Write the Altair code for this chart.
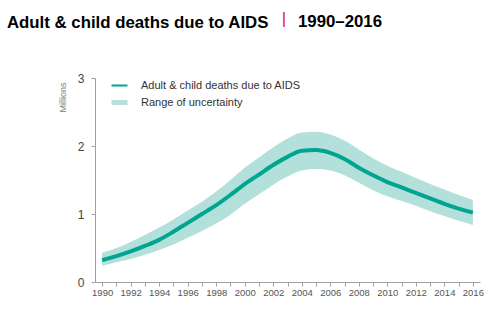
import altair as alt
import pandas as pd

TITLE = "Adult & child deaths due to AIDS"
SUBTITLE = "1990\u20132016"
LINE_LABEL = "Adult & child deaths due to AIDS"
BAND_LABEL = "Range of uncertainty"

years = list(range(1990, 2017))
deaths = [0.32, 0.38, 0.45, 0.53, 0.62, 0.74, 0.87, 1.00, 1.13, 1.28, 1.44,
          1.58, 1.72, 1.84, 1.93, 1.94, 1.90, 1.81, 1.68, 1.57, 1.47, 1.39,
          1.31, 1.23, 1.15, 1.08, 1.02]
upper = [0.43, 0.50, 0.59, 0.69, 0.80, 0.92, 1.05, 1.18, 1.33, 1.50, 1.68,
         1.83, 1.98, 2.11, 2.20, 2.21, 2.17, 2.08, 1.95, 1.82, 1.71, 1.62,
         1.53, 1.44, 1.36, 1.28, 1.21]
lower = [0.24, 0.29, 0.34, 0.40, 0.47, 0.55, 0.65, 0.75, 0.86, 0.99, 1.15,
         1.29, 1.43, 1.55, 1.64, 1.66, 1.64, 1.57, 1.46, 1.35, 1.26, 1.19,
         1.12, 1.04, 0.97, 0.90, 0.84]
y_ticks = [0, 1, 2, 3]

TEAL = "#00a591"
LIGHT = "#b3e0db"
RED = "#e0123a"
FONT = "Liberation Sans"

df = pd.DataFrame({"year": years, "deaths": deaths, "lower": lower, "upper": upper})
legend_df = pd.DataFrame({"series": [LINE_LABEL, BAND_LABEL]})

x_enc = alt.X(
    "year:Q",
    scale=alt.Scale(domain=[1989.5, 2016.5], nice=False, zero=False),
    axis=alt.Axis(
        values=years, format="d",
        labelExpr="datum.value % 2 == 0 ? datum.label : ''",
        title=None, grid=False, tickSize=4, labelFontSize=9.5,
        labelColor="#555555", domainColor="#a0a0a0", tickColor="#a0a0a0",
        labelPadding=1, labelFont=FONT, labelFlush=False,
    ),
)
y_scale = alt.Scale(domain=[0, 3], nice=False)
y_axis = alt.Axis(
    values=y_ticks, format="d", title="Millions", grid=False, tickSize=4,
    labelFontSize=12, labelColor="#444444", domainColor="#a0a0a0",
    tickColor="#a0a0a0", labelPadding=7, labelFont=FONT,
    titleFont=FONT, titleFontSize=9, titleFontWeight="normal",
    titleColor="#808080", titleAnchor="end", titleAlign="right",
    titleBaseline="middle", titleX=-33, titleY=4, titleAngle=270,
)

band = alt.Chart(df).mark_area(color=LIGHT, interpolate="monotone").encode(
    x=x_enc,
    y=alt.Y("lower:Q", scale=y_scale, axis=y_axis),
    y2="upper:Q",
)
line = alt.Chart(df).mark_line(color=TEAL, strokeWidth=4, interpolate="monotone").encode(
    x=x_enc,
    y=alt.Y("deaths:Q", scale=y_scale),
)

series = [LINE_LABEL, BAND_LABEL]
path_line = "M-1.6,-0.2H1.6V0.2H-1.6Z"
path_band = "M-1.6,-0.48H1.6V0.48H-1.6Z"
leg = alt.Legend(
    title=None, orient="none", legendX=19, legendY=2, padding=0,
    labelFont=FONT, labelFontSize=11, labelColor="#333333",
    labelOffset=16, rowPadding=5, symbolSize=100, symbolOpacity=1,
    symbolStrokeWidth=0,
)
legend_pts = alt.Chart(legend_df).mark_point(filled=True, opacity=0).encode(
    x=alt.value(0),
    y=alt.value(0),
    color=alt.Color("series:N", scale=alt.Scale(domain=series, range=[TEAL, LIGHT]), legend=leg, sort=series),
    shape=alt.Shape("series:N", scale=alt.Scale(domain=series, range=[path_line, path_band]), legend=leg, sort=series),
)

title_df = pd.DataFrame({"t": [SUBTITLE]})
pipe = alt.Chart(title_df).mark_text(
    text="|", color=RED, fontSize=17, font=FONT, align="center", baseline="alphabetic"
).encode(x=alt.value(189), y=alt.value(-54))
sub = alt.Chart(title_df).mark_text(
    color="#000000", fontSize=16.8, font=FONT, fontWeight="bold", align="left", baseline="alphabetic"
).encode(x=alt.value(203), y=alt.value(-51), text="t:N")

chart = alt.layer(band, line, legend_pts, pipe, sub).properties(
    width=385,
    height=204,
    autosize=alt.AutoSizeParams(type="none"),
    padding={"left": 95, "top": 78, "right": 20, "bottom": 43},
    title=alt.Title(
        TITLE, anchor="start", frame="group", dx=-88, fontSize=16.8, font=FONT,
        fontWeight="bold", color="#000000", offset=0, baseline="alphabetic", dy=35,
    ),
).configure_view(stroke=None)

chart.save("out.html", embed_options={"renderer": "svg", "actions": False})
